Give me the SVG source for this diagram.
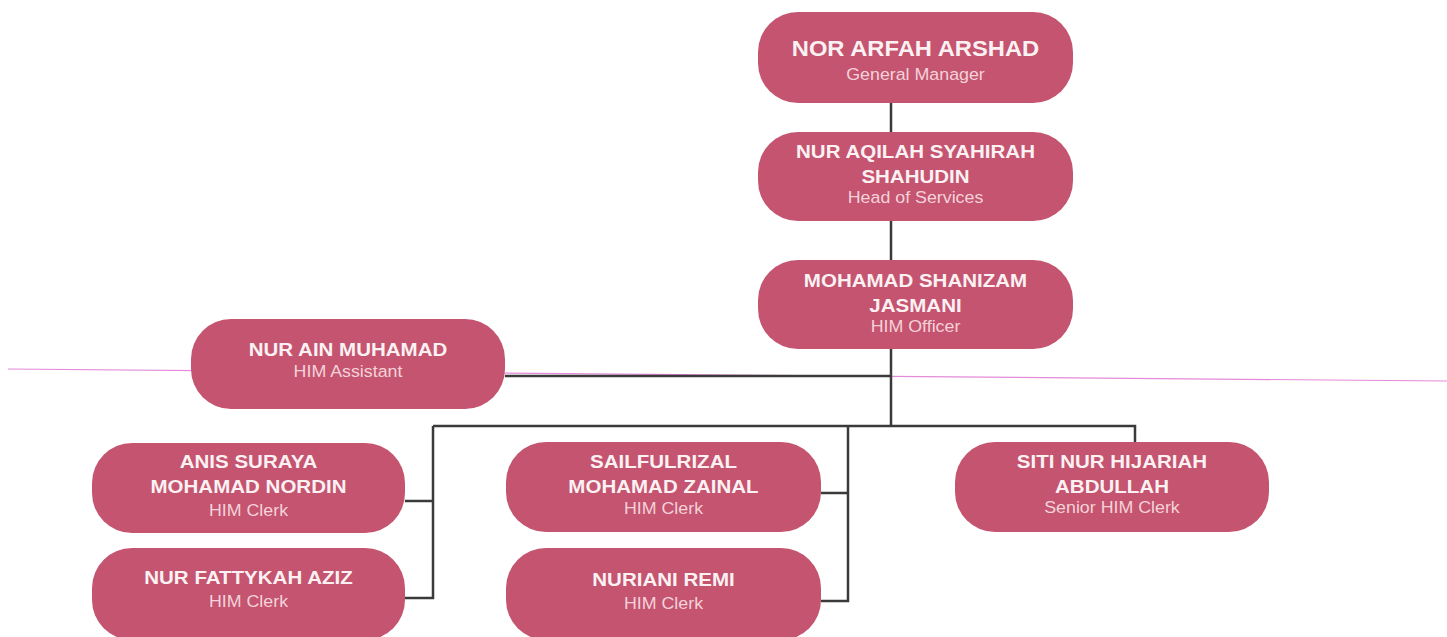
<svg xmlns="http://www.w3.org/2000/svg" width="1447" height="637" viewBox="0 0 1447 637">
<style>
.box{fill:#c4546f;}
.nm{font-family:"Liberation Sans",Arial,sans-serif;font-weight:bold;font-size:19px;fill:#fbf1f3;text-anchor:middle;}
.nm1{font-size:22px;}
.sb{font-family:"Liberation Sans",Arial,sans-serif;font-size:16.5px;fill:#f5d2da;text-anchor:middle;}
.ln{fill:none;stroke:#3a3a3a;stroke-width:2.5;}
</style>
<rect x="0" y="0" width="1447" height="637" fill="#ffffff"/>
<line x1="8" y1="369" x2="1447" y2="381" stroke="#e48ad8" stroke-width="1.2"/>
<g id="connectors">
<path class="ln" d="M891 103V132M891 221V260M891 349V426M505 376H891M433 426H1135V442M433 426V598H405M433 501H405M848 426V601H821M848 493H821"/>
</g>
<g id="n1" transform="translate(915.5,12)">
<rect class="box" x="-157.5" y="0" width="315" height="91" rx="40"/>
<g transform="scale(1.08,1)"><text class="nm nm1" x="0" y="44">NOR ARFAH ARSHAD</text><text class="sb" x="0" y="68">General Manager</text></g>
</g>
<g id="n2" transform="translate(915.5,132)">
<rect class="box" x="-157.5" y="0" width="315" height="89" rx="40"/>
<g transform="scale(1.08,1)"><text class="nm" x="0" y="26">NUR AQILAH SYAHIRAH</text><text class="nm" x="0" y="51">SHAHUDIN</text><text class="sb" x="0" y="71">Head of Services</text></g>
</g>
<g id="n3" transform="translate(915.5,260)">
<rect class="box" x="-157.5" y="0" width="315" height="89" rx="40"/>
<g transform="scale(1.08,1)"><text class="nm" x="0" y="27">MOHAMAD SHANIZAM</text><text class="nm" x="0" y="52">JASMANI</text><text class="sb" x="0" y="72">HIM Officer</text></g>
</g>
<g id="n4" transform="translate(348,319)">
<rect class="box" x="-157" y="0" width="314" height="90" rx="40"/>
<g transform="scale(1.08,1)"><text class="nm" x="0" y="37">NUR AIN MUHAMAD</text><text class="sb" x="0" y="58">HIM Assistant</text></g>
</g>
<g id="n5" transform="translate(248.5,443)">
<rect class="box" x="-156.5" y="0" width="313" height="90" rx="40"/>
<g transform="scale(1.08,1)"><text class="nm" x="0" y="25">ANIS SURAYA</text><text class="nm" x="0" y="50">MOHAMAD NORDIN</text><text class="sb" x="0" y="73">HIM Clerk</text></g>
</g>
<g id="n6" transform="translate(248.5,548)">
<rect class="box" x="-156.5" y="0" width="313" height="92" rx="40"/>
<g transform="scale(1.08,1)"><text class="nm" x="0" y="36">NUR FATTYKAH AZIZ</text><text class="sb" x="0" y="59">HIM Clerk</text></g>
</g>
<g id="n7" transform="translate(663.5,442)">
<rect class="box" x="-157.5" y="0" width="315" height="90" rx="40"/>
<g transform="scale(1.08,1)"><text class="nm" x="0" y="26">SAILFULRIZAL</text><text class="nm" x="0" y="51">MOHAMAD ZAINAL</text><text class="sb" x="0" y="72">HIM Clerk</text></g>
</g>
<g id="n8" transform="translate(663.5,548)">
<rect class="box" x="-157.5" y="0" width="315" height="92" rx="40"/>
<g transform="scale(1.08,1)"><text class="nm" x="0" y="38">NURIANI REMI</text><text class="sb" x="0" y="61">HIM Clerk</text></g>
</g>
<g id="n9" transform="translate(1112,442)">
<rect class="box" x="-157" y="0" width="314" height="90" rx="40"/>
<g transform="scale(1.08,1)"><text class="nm" x="0" y="26">SITI NUR HIJARIAH</text><text class="nm" x="0" y="51">ABDULLAH</text><text class="sb" x="0" y="71">Senior HIM Clerk</text></g>
</g>
</svg>
